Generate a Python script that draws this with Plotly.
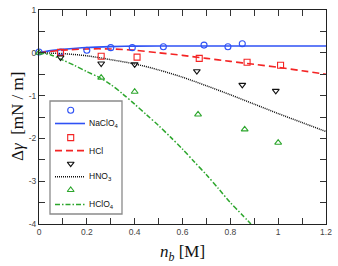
import plotly.graph_objects as go

# ---- data ----
x_naclo4 = [0.0, 0.09, 0.20, 0.30, 0.39, 0.52, 0.69, 0.79, 0.85]
y_naclo4 = [0.02, 0.02, 0.06, 0.12, 0.12, 0.14, 0.18, 0.14, 0.21]
x_hcl = [0.09, 0.26, 0.41, 0.67, 0.87, 1.01]
y_hcl = [0.01, -0.08, -0.10, -0.13, -0.22, -0.29]
x_hno3 = [0.09, 0.26, 0.40, 0.66, 0.85, 0.99]
y_hno3 = [-0.11, -0.25, -0.27, -0.43, -0.75, -0.89]
x_hclo4 = [0.0, 0.26, 0.40, 0.665, 0.86, 1.0]
y_hclo4 = [0.0, -0.58, -0.91, -1.44, -1.79, -2.10]

# model curves
xf_naclo4 = [0, 0.05, 0.1, 0.2, 0.3, 0.4, 0.6, 0.8, 1.0, 1.2]
yf_naclo4 = [0, 0.05, 0.08, 0.125, 0.145, 0.155, 0.16, 0.16, 0.16, 0.16]
xf_hcl = [0, 0.1, 0.2, 0.3, 0.4, 0.5, 0.6, 0.7, 0.8, 0.9, 1.0, 1.1, 1.2]
yf_hcl = [0, 0.06, 0.09, 0.09, 0.06, 0.0, -0.06, -0.13, -0.20, -0.27, -0.34, -0.42, -0.50]
xf_hno3 = [0, 0.1, 0.2, 0.3, 0.4, 0.5, 0.6, 0.7, 0.8, 0.9, 1.0, 1.1, 1.2]
yf_hno3 = [0, -0.02, -0.07, -0.16, -0.26, -0.40, -0.57, -0.77, -0.98, -1.20, -1.42, -1.63, -1.84]
xf_hclo4 = [0, 0.05, 0.1, 0.15, 0.2, 0.25, 0.3, 0.35, 0.4, 0.45, 0.5, 0.55, 0.6,
            0.65, 0.7, 0.75, 0.8, 0.85, 0.886]
yf_hclo4 = [0, -0.05, -0.17, -0.30, -0.44, -0.57, -0.74, -0.96, -1.20, -1.45, -1.70,
            -1.97, -2.25, -2.55, -2.85, -3.17, -3.50, -3.79, -4.0]

labels = ["NaClO<sub>4</sub>", "HCl", "HNO<sub>3</sub>", "HClO<sub>4</sub>"]
x_ticks = [0, 0.2, 0.4, 0.6, 0.8, 1.0, 1.2]
x_ticktext = ["0", "0.2", "0.4", "0.6", "0.8", "1", "1.2"]
y_ticks = [1, 0, -1, -2, -3, -4]
y_ticktext = ["1", "0", "-1", "-2", "-3", "-4"]

BLUE = "#2f52f5"
RED = "#f42424"
BLACK = "#111111"
GREEN = "#2da62d"

styles = [
    dict(color=BLUE, dash="solid", width=1.6, symbol="circle-open"),
    dict(color=RED, dash="7px,4px", width=1.6, symbol="square-open"),
    dict(color=BLACK, dash="1px,1px", width=1.5, symbol="triangle-down-open"),
    dict(color=GREEN, dash="5px,2px,1.5px,2px", width=1.5, symbol="triangle-up-open"),
]
MSIZE = 6

fig = go.Figure()
pts = [(x_naclo4, y_naclo4), (x_hcl, y_hcl), (x_hno3, y_hno3), (x_hclo4, y_hclo4)]
fits = [(xf_naclo4, yf_naclo4), (xf_hcl, yf_hcl), (xf_hno3, yf_hno3), (xf_hclo4, yf_hclo4)]

for (xf, yf), st in zip(fits, styles):
    fig.add_trace(go.Scatter(x=xf, y=yf, mode="lines", line_shape="spline",
                             line=dict(color=st["color"], dash=st["dash"], width=st["width"],
                                       smoothing=0.8),
                             showlegend=False, hoverinfo="skip"))
for (xp, yp), st in zip(pts, styles):
    fig.add_trace(go.Scatter(x=xp, y=yp, mode="markers",
                             marker=dict(symbol=st["symbol"], size=MSIZE, color=st["color"],
                                         line=dict(width=1.1, color=st["color"])),
                             showlegend=False, cliponaxis=False))

# ---- hand-made legend on an overlay axis measured in pixels ----
W, H = 338, 266
L, R, T, B = 39, 326, 10, 224
leg_x0, leg_x1, leg_y0, leg_y1 = 50, 122, 101, 214
row_y = [110.3, 123.5, 137.6, 150.6, 163.7, 176.8, 190.0, 204.5]
for i, st in enumerate(styles):
    ym = row_y[2 * i]
    yl = row_y[2 * i + 1]
    fig.add_trace(go.Scatter(x=[70.7], y=[ym], xaxis="x2", yaxis="y2", mode="markers",
                             marker=dict(symbol=st["symbol"], size=MSIZE, color=st["color"],
                                         line=dict(width=1.1, color=st["color"])),
                             showlegend=False, hoverinfo="skip"))
    fig.add_trace(go.Scatter(x=[55, 85], y=[yl, yl], xaxis="x2", yaxis="y2", mode="lines",
                             line=dict(color=st["color"], dash=st["dash"], width=st["width"]),
                             showlegend=False, hoverinfo="skip"))
    fig.add_annotation(x=87, y=yl, xref="x2", yref="y2", text=labels[i], showarrow=False,
                       xanchor="left", yanchor="middle",
                       font=dict(family="Liberation Sans, Arial", size=8.5, color="#111"))

fig.add_shape(type="rect", xref="x2", yref="y2", x0=leg_x0, x1=leg_x1, y0=leg_y0, y1=leg_y1,
              line=dict(color="#8a8a8a", width=1.3), fillcolor="rgba(255,255,255,0)", layer="below")


def px_x(p):
    return (p - L) / (R - L)


def px_y(p):
    return (B - p) / (B - T)


# axis titles (paper coordinates)
fig.add_annotation(x=px_x(17), y=px_y(117), xref="paper", yref="paper",
                   text="Δ<i>γ</i>  [mN / m]", textangle=-90, showarrow=False,
                   xanchor="center", yanchor="middle",
                   font=dict(family="Liberation Serif, Times New Roman", size=17, color="#111"))
fig.add_annotation(x=px_x(182), y=px_y(253), xref="paper", yref="paper",
                   text="<i>n</i><sub><i>b</i></sub> [M]", showarrow=False,
                   xanchor="center", yanchor="middle",
                   font=dict(family="Liberation Serif, Times New Roman", size=17, color="#111"))

tickfont = dict(family="Liberation Sans, Arial", size=8.5, color="#444")
fig.update_layout(
    width=W, height=H,
    margin=dict(l=L, r=W - R, t=T, b=H - B, pad=0, autoexpand=False),
    paper_bgcolor="white", plot_bgcolor="white",
    showlegend=False,
    xaxis=dict(range=[0, 1.2], tickvals=x_ticks, ticktext=x_ticktext, ticks="inside",
               ticklen=6, tickwidth=1, tickcolor="#333", showline=True, linecolor="#222",
               linewidth=1.2, mirror="allticks", showgrid=False, zeroline=False,
               tickfont=tickfont, automargin=False,
               minor=dict(dtick=0.1, tick0=0, ticks="inside", ticklen=6, tickcolor="#333",
                          showgrid=False)),
    yaxis=dict(range=[-4, 1], tickvals=y_ticks, ticktext=y_ticktext, ticks="inside",
               ticklen=6, tickwidth=1, tickcolor="#333", showline=True, linecolor="#222",
               linewidth=1.2, mirror="allticks", showgrid=False, zeroline=False,
               tickfont=tickfont, automargin=False,
               minor=dict(dtick=0.5, tick0=0, ticks="inside", ticklen=6, tickcolor="#333",
                          showgrid=False)),
    xaxis2=dict(overlaying="x", range=[L, R], visible=False, fixedrange=True, automargin=False),
    yaxis2=dict(overlaying="y", range=[B, T], visible=False, fixedrange=True, automargin=False),
)

fig.write_html("out.html", config={"displayModeBar": False},
               post_script="document.body.style.margin='0';document.body.style.overflow='hidden';")
